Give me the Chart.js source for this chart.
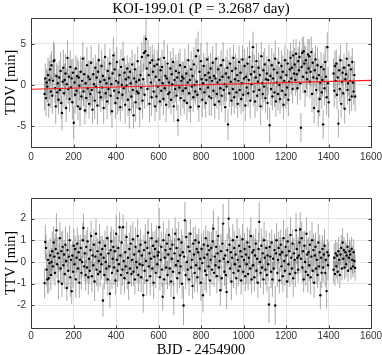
<!DOCTYPE html>
<html>
<head>
<meta charset="utf-8">
<script src="https://cdn.jsdelivr.net/npm/chart.js@4"></script>
<style>
  html, body { margin: 0; padding: 0; background: #fff; }
  #wrap { position: relative; width: 382px; height: 355px; }
  canvas { position: absolute; left: 0; }
  #cTop { top: 0; }
  #cBot { top: 180px; }
</style>
</head>
<body>
<div id="wrap">
  <canvas id="cTop" width="382" height="165"></canvas>
  <canvas id="cBot" width="382" height="175"></canvas>
</div>
<script>
// ---------- DATOS ----------
// tiempos de tránsito: primer tránsito + n * periodo (null = tránsito sin dato)
const PERIODO = 3.2687;
const T_PRIMERO = 64;

const X_TICKS   = [0, 200, 400, 600, 800, 1000, 1200, 1400, 1600];
const TDV_TICKS = [-5, 0, 5];
const TTV_TICKS = [-2, -1, 0, 1, 2];

// TDV [min]
const TDV = [
  -1.1,0.8,-1.6,0.3,-0.2,1.2,-2.4,0.6,1.9,-0.8,2.4,-1.3,0.5,2.9,3.0,-0.4,-2.6,1.1,-0.9,0.2,
  -1.8,0.9,-0.6,1.7,-2.2,-3.4,0.4,2.1,-1.0,0.6,1.4,-2.8,0.1,3.3,-0.5,1.0,-1.7,2.2,-0.3,0.8,
  -2.1,1.5,-4.6,0.3,-1.2,2.0,-0.7,1.1,-2.6,0.9,-0.1,-2.9,1.6,-1.4,0.5,3.2,-0.8,1.3,-3.1,0.2,
  -1.6,2.4,-0.4,1.0,-2.3,0.7,-1.1,2.7,-0.6,-3.0,1.3,0.1,-1.9,2.1,-0.2,0.9,-2.5,1.6,3.0,-0.9,
  0.4,-1.5,2.3,-0.3,1.1,-2.8,0.6,3.4,-1.0,0.2,-2.0,1.7,-0.5,0.8,2.6,-1.3,0.1,-3.2,1.4,3.6,
  -0.7,1.9,-2.2,0.5,2.8,-1.6,0.3,-0.9,1.2,-2.7,2.2,0.0,-1.2,3.1,-0.4,1.5,-2.4,0.7,-0.1,2.0,
  -1.8,0.9,-3.0,1.6,0.2,-1.4,2.5,-0.6,-3.7,0.8,1.9,-2.1,0.4,-0.8,2.9,-1.0,0.6,-2.9,1.2,-0.3,
  3.4,-1.9,0.7,3.9,-1.2,4.1,5.6,2.0,-0.5,3.6,1.2,-2.3,2.7,0.3,-1.5,3.0,1.6,-0.8,2.3,-2.6,
  1.0,-1.4,2.5,-0.2,3.1,0.6,-2.0,1.8,-0.7,2.2,0.2,-1.7,3.3,-0.4,1.1,-2.4,0.8,2.6,-1.1,0.3,
  -0.9,2.0,-1.8,1.3,0.1,2.8,-2.6,0.6,-0.5,1.7,-1.3,0.9,-4.3,1.5,-0.3,2.4,-1.6,0.5,1.0,-0.7,
  0.8,-1.9,2.2,-0.4,1.4,-2.2,0.3,3.0,-1.0,0.6,-2.7,1.9,-0.2,1.1,-1.5,2.5,0.0,-0.8,3.5,0.4,
  -1.2,4.2,-2.6,1.6,-0.5,2.9,0.7,-1.8,0.2,2.3,-0.9,1.2,-2.2,0.6,3.1,-0.3,1.5,-1.4,0.9,2.0,
  -1.6,0.5,2.7,-0.7,1.1,-2.4,0.8,3.2,-1.1,0.3,1.9,-2.0,0.6,-0.4,2.4,-1.3,1.0,3.0,-0.6,0.1,
  -2.7,1.4,-0.2,2.1,-4.8,0.9,-1.0,2.6,0.4,-1.9,1.7,-0.5,3.3,-1.5,0.7,2.0,-0.9,1.2,-2.3,0.5,
  2.8,-0.6,1.5,-1.7,0.2,3.1,-1.2,0.8,2.3,-2.5,1.0,-0.3,2.6,-1.0,0.6,3.4,-1.9,1.3,0.1,2.2,
  4.6,-0.8,1.6,-2.0,0.9,2.9,-1.3,0.4,2.1,-0.6,1.2,-2.6,3.5,0.2,-1.1,1.8,-0.2,2.5,-1.6,0.7,
  1.4,-2.2,0.6,3.0,-4.9,1.1,-0.5,2.4,-1.4,0.8,1.9,-0.9,3.2,-2.0,0.3,1.5,-1.1,2.7,0.0,-1.7,
  0.9,2.3,-0.7,1.6,-2.4,0.5,3.0,-1.2,1.2,-0.3,2.6,-1.8,0.4,1.9,3.3,0.8,2.1,-0.5,3.6,1.4,
  2.5,0.6,3.8,1.3,-0.4,2.9,1.8,3.4,0.2,-5.2,2.2,3.9,1.0,4.1,2.6,-0.8,3.0,1.5,0.7,3.7,
  2.0,3.5,0.4,1.6,4.0,-1.1,2.7,0.9,-2.8,1.8,3.1,-0.6,0.8,2.4,-3.2,1.2,-1.7,0.3,2.2,-0.9,
  0.6,-4.8,1.9,-0.4,2.8,1.0,-1.5,4.6,0.2,-2.1,null,null,null,null,null,null,1.4,-0.7,2.3,0.5,
  2.6,-1.2,0.9,-4.7,1.8,-0.5,3.0,-2.3,0.4,1.5,-1.0,2.1,-2.9,0.7,1.3,3.2,-0.6,0.2,2.4,-1.8,
  0.5,1.9,-1.4,2.8,0.3,-0.8,1.2,-1.4
];
const TDV_ERR = [
  2.0,1.8,2.2,1.7,1.9,2.1,1.6,2.3,1.8,2.0,1.7,2.2,1.9,2.4,2.0,1.8,2.1,1.6,1.9,2.2,
  1.8,2.0,1.7,2.3,1.9,2.1,1.6,2.2,1.8,2.0,2.4,1.7,1.9,2.1,1.8,2.2,1.6,2.0,1.9,2.3,
  2.1,1.7,2.0,1.8,2.3,1.6,1.9,2.2,1.7,2.0,1.8,2.1,1.9,1.6,2.4,2.0,1.8,2.2,1.7,1.9,
  1.9,2.2,1.7,2.0,1.8,2.3,1.6,2.1,1.9,1.7,2.0,1.8,2.2,1.6,2.1,1.9,2.3,1.7,2.0,1.8,
  2.2,1.8,2.0,1.7,2.1,1.9,2.3,1.6,2.0,1.8,2.2,1.7,1.9,2.1,1.8,2.4,1.6,2.0,1.9,2.2,
  1.7,2.1,1.9,2.2,1.8,2.0,1.6,2.3,1.9,1.7,2.1,1.8,2.0,2.2,1.7,1.9,2.3,1.8,2.0,1.6,
  2.0,1.8,2.3,1.7,1.9,2.1,1.8,2.2,1.6,2.0,1.9,2.4,1.7,2.1,1.8,2.0,1.7,2.2,1.9,2.1,
  1.8,2.2,1.9,2.1,1.7,2.0,2.4,1.8,2.1,1.9,1.7,2.2,2.0,1.8,2.3,1.9,2.1,1.7,2.0,1.8,
  2.1,1.9,1.7,2.2,2.0,1.8,2.3,1.6,1.9,2.1,1.8,2.0,2.2,1.7,1.9,2.1,1.6,2.3,1.8,2.0,
  1.9,2.1,1.8,2.0,2.3,1.7,1.9,2.2,1.6,2.0,1.8,2.1,1.9,2.4,1.7,2.0,2.2,1.8,1.9,2.1,
  2.0,1.7,2.2,1.9,1.8,2.1,1.6,2.0,2.3,1.8,1.9,2.2,1.7,2.0,1.8,2.1,1.9,1.6,2.2,2.0,
  1.8,2.3,1.9,2.0,1.7,2.2,1.8,2.1,1.9,1.6,2.0,2.2,1.8,1.9,2.1,1.7,2.0,2.3,1.8,1.9,
  2.2,1.9,2.0,1.8,2.1,1.7,2.3,1.9,1.8,2.0,1.6,2.2,1.9,2.1,1.8,2.0,1.7,2.2,1.9,2.0,
  1.9,2.0,1.8,2.2,1.9,2.1,1.7,2.0,2.3,1.8,1.9,2.1,1.6,2.0,2.2,1.8,1.9,2.1,1.7,2.0,
  2.0,2.1,1.8,1.9,2.2,1.7,2.0,1.8,2.1,1.9,2.3,1.8,2.0,1.7,2.1,1.9,2.2,1.8,2.0,1.9,
  1.9,1.8,2.1,2.0,1.7,2.2,1.9,2.0,1.8,2.1,1.9,2.3,1.7,2.0,1.8,2.2,1.9,2.0,1.8,2.1,
  2.1,2.0,1.8,1.9,2.2,1.8,2.0,2.1,1.7,1.9,2.0,1.8,2.2,1.9,2.1,1.7,2.0,1.9,2.2,1.8,
  1.8,1.9,2.1,2.0,1.8,2.2,1.9,1.7,2.0,2.1,1.8,2.0,1.9,2.2,1.8,2.0,2.1,1.7,1.9,2.0,
  2.0,1.9,1.8,2.1,2.0,1.7,2.2,1.9,2.0,1.8,2.1,1.9,2.0,1.8,2.2,1.9,1.7,2.0,2.1,1.9,
  1.9,2.1,2.0,1.8,1.9,2.2,1.8,2.0,1.9,2.1,1.7,2.0,1.9,2.2,1.8,2.0,2.1,1.9,1.8,2.0,
  2.0,1.8,1.9,2.1,2.0,1.9,2.2,1.8,2.0,1.9,null,null,null,null,null,null,1.8,2.0,1.9,2.1,
  1.7,1.8,1.9,1.7,1.8,1.6,1.9,1.7,1.8,1.6,1.9,1.7,1.8,1.6,1.7,1.9,1.8,1.6,1.7,1.8,
  1.7,1.6,1.8,1.7,1.9,1.6,1.7,1.8
];

// TTV [min]
const TTV = [
  -0.97,0.92,0.65,-0.35,-0.8,0.1,-0.75,-0.05,0.3,-0.6,0.0,0.5,-0.2,0.9,0.25,-0.5,0.6,1.46,-0.1,0.4,
  -0.9,0.2,1.1,-0.3,0.5,-1.0,0.7,-0.15,0.35,-0.55,0.8,0.05,-1.2,0.55,-0.4,0.25,1.0,-0.7,0.1,-1.35,
  0.3,-0.45,0.75,-0.1,0.6,-0.8,0.2,0.85,-0.3,0.45,-0.95,0.1,0.65,-0.5,0.0,1.0,1.57,-0.2,0.4,-0.6,
  0.7,-0.25,0.95,-0.7,0.15,-0.4,0.55,1.2,-0.65,0.3,-0.15,0.8,-0.9,0.25,1.3,-0.35,0.5,-0.55,0.05,0.9,
  -0.45,0.35,-0.1,0.6,-1.77,0.2,-0.6,0.75,0.0,-0.3,1.1,-0.8,0.4,-0.2,-1.46,0.55,0.95,-0.5,0.15,0.7,
  -0.25,0.5,-0.85,1.3,0.1,-0.4,0.65,-0.1,1.6,0.3,-0.6,0.9,-0.35,1.6,0.05,-0.75,0.45,-0.2,1.15,-0.5,
  0.2,-0.95,0.6,-0.3,0.85,-0.55,0.1,1.05,-0.45,0.35,-0.8,0.7,0.0,-0.25,1.2,-0.6,0.5,-0.1,0.8,-0.7,
  0.3,-0.15,-1.53,0.55,-0.4,0.9,0.05,-0.85,0.65,1.35,-0.2,0.4,-0.65,0.15,1.1,-0.3,0.75,-0.95,0.25,0.6,
  -0.5,0.95,-0.1,0.3,0.45,1.6,-0.7,0.1,0.7,-0.35,-1.6,1.0,-0.8,0.2,0.55,-0.25,0.85,-0.6,0.35,1.25,
  -0.3,0.6,-0.9,0.15,0.8,-0.45,-1.65,0.4,1.3,-0.15,0.65,-0.75,0.05,1.05,-0.5,0.3,-0.2,0.9,-1.0,0.45,
  -2.0,0.25,1.92,-0.6,1.15,0.0,-0.35,0.7,-0.8,0.5,1.3,-0.25,0.1,-1.1,0.85,0.35,-0.5,1.0,-0.15,0.6,
  -0.7,0.45,0.9,-0.3,0.15,-0.95,0.6,-0.05,-1.53,0.8,0.2,-0.4,1.1,-0.6,0.35,0.75,-0.2,0.55,-0.85,0.1,
  0.65,-0.35,0.95,1.54,-0.5,0.25,-0.15,0.7,-0.65,0.4,1.2,-0.25,0.05,-1.3,0.5,-0.75,0.85,1.77,0.15,-0.45,
  0.3,-0.6,-1.38,0.55,0.0,2.0,0.8,-0.3,0.45,-0.9,0.2,1.0,-0.5,0.65,-0.1,0.35,-0.75,1.15,0.1,-0.4,
  0.75,-0.2,0.5,-0.85,0.25,1.05,-0.45,0.1,0.6,-0.65,0.35,-0.1,0.9,-0.55,0.2,0.7,-0.3,1.2,-0.8,0.45,
  -0.15,0.55,-0.7,0.3,0.85,-0.4,0.15,-0.95,0.6,1.85,0.0,-0.5,0.75,-0.25,0.4,-0.8,1.0,0.2,-0.35,0.65,
  -0.6,0.3,-0.1,-1.96,0.7,0.25,-0.45,0.9,-0.8,0.15,-0.3,0.55,-2.0,0.4,1.0,-0.5,0.1,0.65,-0.85,0.35,
  0.8,-0.2,0.45,-0.65,1.1,0.05,-0.4,0.7,0.3,-0.9,0.95,-0.1,0.5,-0.55,1.25,0.2,-0.3,0.85,-0.75,0.4,
  0.1,-0.5,1.46,0.6,0.2,-0.35,0.3,0.9,1.5,0.15,1.1,-0.25,0.5,-0.8,0.75,0.0,-0.45,1.3,0.35,-0.6,
  0.45,-0.15,0.8,-0.7,0.25,1.0,-0.4,0.55,-0.95,0.3,0.7,-0.3,0.1,-0.6,0.9,-0.2,0.45,-1.53,0.2,-0.5,
  0.6,-0.25,0.35,0.75,-0.5,0.1,-1.34,0.45,-0.15,0.3,null,null,null,null,null,null,-0.35,0.2,-0.55,0.4,
  -0.2,0.3,-0.45,0.5,0.1,-0.6,0.35,0.65,-0.3,0.9,0.15,0.55,-0.25,0.45,-0.1,0.3,0.7,-0.4,0.2,0.5,
  0.35,-0.3,0.6,0.1,-0.2,0.45,0.05,-0.27
];
const TTV_ERR = [
  0.7,0.8,0.6,0.75,0.65,0.85,0.7,0.6,0.8,0.7,0.65,0.9,0.7,0.75,0.85,0.6,0.7,0.8,0.65,0.75,
  0.8,0.65,0.75,0.7,0.9,0.6,0.75,0.8,0.65,0.7,0.85,0.7,0.6,0.8,0.75,0.65,0.7,0.9,0.7,0.6,
  0.65,0.75,0.8,0.7,0.6,0.85,0.7,0.75,0.65,0.8,0.7,0.9,0.6,0.75,0.7,0.8,0.65,0.7,0.85,0.7,
  0.75,0.7,0.65,0.8,0.7,0.6,0.85,0.7,0.75,0.65,0.8,0.7,0.9,0.65,0.7,0.75,0.6,0.8,0.7,0.85,
  0.7,0.85,0.7,0.6,0.75,0.8,0.65,0.7,0.9,0.7,0.6,0.75,0.8,0.7,0.65,0.85,0.7,0.75,0.6,0.8,
  0.8,0.7,0.65,0.85,0.7,0.75,0.6,0.8,0.7,0.65,0.9,0.7,0.75,0.6,0.8,0.7,0.85,0.65,0.7,0.75,
  0.65,0.8,0.75,0.7,0.85,0.6,0.7,0.8,0.65,0.75,0.7,0.9,0.65,0.7,0.8,0.75,0.6,0.85,0.7,0.7,
  0.75,0.65,0.8,0.7,0.6,0.85,0.75,0.7,0.8,0.65,0.7,0.75,0.9,0.6,0.7,0.8,0.65,0.75,0.7,0.85,
  0.7,0.75,0.65,0.8,0.7,0.9,0.6,0.75,0.7,0.8,0.65,0.85,0.7,0.6,0.75,0.8,0.7,0.65,0.9,0.7,
  0.8,0.6,0.7,0.85,0.75,0.65,0.8,0.7,0.75,0.6,0.9,0.7,0.65,0.8,0.7,0.75,0.85,0.6,0.7,0.8,
  0.9,0.7,0.85,0.65,0.75,0.8,0.6,0.7,0.75,0.85,0.65,0.7,0.8,0.6,0.75,0.7,0.9,0.65,0.8,0.7,
  0.7,0.8,0.65,0.75,0.6,0.85,0.7,0.75,0.8,0.65,0.7,0.9,0.6,0.8,0.75,0.7,0.65,0.85,0.7,0.75,
  0.75,0.7,0.8,0.85,0.65,0.7,0.6,0.75,0.8,0.7,0.9,0.65,0.75,0.7,0.8,0.6,0.85,0.9,0.7,0.65,
  0.7,0.65,0.8,0.75,0.7,0.95,0.8,0.65,0.7,0.85,0.6,0.75,0.7,0.8,0.65,0.7,0.75,0.85,0.6,0.7,
  0.8,0.7,0.75,0.65,0.85,0.7,0.6,0.8,0.75,0.7,0.65,0.9,0.7,0.75,0.6,0.8,0.7,0.85,0.65,0.75,
  0.7,0.75,0.65,0.8,0.7,0.6,0.85,0.7,0.75,0.9,0.65,0.7,0.8,0.6,0.75,0.7,0.85,0.65,0.7,0.8,
  0.75,0.7,0.8,0.85,0.65,0.7,0.75,0.6,0.8,0.7,0.65,0.75,0.9,0.7,0.8,0.65,0.7,0.75,0.6,0.8,
  0.7,0.8,0.65,0.75,0.85,0.6,0.7,0.8,0.7,0.75,0.65,0.85,0.7,0.6,0.8,0.75,0.7,0.65,0.85,0.7,
  0.75,0.65,0.8,0.7,0.75,0.6,0.85,0.7,0.8,0.65,0.75,0.7,0.9,0.6,0.7,0.8,0.65,0.75,0.7,0.8,
  0.7,0.75,0.65,0.8,0.7,0.85,0.6,0.75,0.7,0.8,0.65,0.7,0.75,0.6,0.85,0.7,0.8,0.65,0.75,0.7,
  0.65,0.7,0.6,0.75,0.65,0.7,0.8,0.6,0.7,0.65,null,null,null,null,null,null,0.6,0.65,0.55,0.6,
  0.55,0.6,0.5,0.65,0.55,0.6,0.5,0.6,0.55,0.65,0.5,0.6,0.55,0.5,0.6,0.55,0.65,0.5,0.6,0.55,
  0.6,0.5,0.55,0.65,0.5,0.6,0.55,0.6
];

// recta ajustada (TDV)
const AJUSTE_X = [0, 1600];
const AJUSTE_Y = [-0.52, 0.55];

// ---------- UTILIDADES ----------
function puntos(vals, errs) {
  const out = [];
  vals.forEach((v, i) => {
    if (v !== null) out.push({ x: T_PRIMERO + i * PERIODO, y: v, e: errs[i] || 0 });
  });
  return out;
}

const barrasError = {
  id: "barrasError",
  beforeDatasetsDraw(chart) {
    const { ctx, chartArea: a, scales: { x, y } } = chart;
    const ds = chart.data.datasets.find(d => d.conError);
    if (!ds) return;
    ctx.save();
    ctx.beginPath();
    ctx.rect(a.left, a.top, a.width, a.height);
    ctx.clip();
    ctx.strokeStyle = "rgba(85,85,85,0.5)";
    ctx.lineWidth = 1;
    ds.data.forEach(p => {
      const px = x.getPixelForValue(p.x);
      ctx.beginPath();
      ctx.moveTo(px, y.getPixelForValue(p.y - p.e));
      ctx.lineTo(px, y.getPixelForValue(p.y + p.e));
      ctx.stroke();
    });
    ctx.restore();
  }
};

const marco = {
  id: "marco",
  afterDraw(chart) {
    const { ctx, chartArea: a, scales: { x, y } } = chart;
    const L = Math.round(a.left) + 0.5, R = Math.round(a.right) + 0.5;
    const T = Math.round(a.top) + 0.5, B = Math.round(a.bottom) + 0.5;
    ctx.save();
    ctx.strokeStyle = "#3a3a3a";
    ctx.lineWidth = 1;
    ctx.beginPath();
    ctx.moveTo(L, T); ctx.lineTo(R, T); ctx.lineTo(R, B); ctx.lineTo(L, B); ctx.closePath();
    x.ticks.forEach(t => {
      const px = Math.round(x.getPixelForValue(t.value)) + 0.5;
      ctx.moveTo(px, B); ctx.lineTo(px, B - 3);
      ctx.moveTo(px, T); ctx.lineTo(px, T + 3);
    });
    y.ticks.forEach(t => {
      const py = Math.round(y.getPixelForValue(t.value)) + 0.5;
      ctx.moveTo(L, py); ctx.lineTo(L + 3, py);
      ctx.moveTo(R, py); ctx.lineTo(R - 3, py);
    });
    ctx.stroke();
    ctx.restore();
  }
};

Chart.defaults.font.family = "'Liberation Sans', Arial, sans-serif";
Chart.defaults.font.size = 10;
Chart.defaults.color = "#333";

function crearPanel(id, o) {
  const datasets = [{
    type: "scatter",
    data: puntos(o.valores, o.errores),
    conError: true,
    backgroundColor: "#000",
    borderColor: "#000",
    pointRadius: 1.2,
    pointBorderWidth: 0,
    order: 2
  }];
  if (o.ajuste) {
    datasets.push({
      type: "line",
      data: AJUSTE_X.map((xv, i) => ({ x: xv, y: AJUSTE_Y[i] })),
      borderColor: "#ff1a1a",
      borderWidth: 1.2,
      pointRadius: 0,
      order: 1
    });
  }
  return new Chart(document.getElementById(id), {
    type: "scatter",
    data: { datasets },
    options: {
      responsive: false,
      animation: false,
      layout: { padding: { left: 0, right: 11, top: o.padTop, bottom: 0 } },
      plugins: {
        legend: { display: false },
        tooltip: { enabled: false },
        title: {
          display: !!o.titulo,
          text: o.titulo || "",
          fullSize: false,
          color: "#000",
          font: { family: "'Liberation Serif', serif", size: 15, weight: "normal" },
          padding: { top: 0, bottom: 0 }
        }
      },
      scales: {
        x: {
          type: "linear", min: 0, max: 1600,
          afterBuildTicks: s => { s.ticks = X_TICKS.map(v => ({ value: v })); },
          afterFit: s => { s.height = o.altoX; s.paddingLeft = 0; s.paddingRight = 0; },
          ticks: { padding: o.padTicks, maxRotation: 0, autoSkip: false, callback: v => String(v) },
          grid: { color: "#e4e4e4", drawTicks: false },
          border: { display: false },
          title: {
            display: !!o.tituloX,
            text: o.tituloX || "",
            color: "#000",
            font: { family: "'Liberation Serif', serif", size: 14.5, lineHeight: 1 },
            padding: { top: 0, bottom: -2 }
          }
        },
        y: {
          type: "linear", min: o.yMin, max: o.yMax,
          afterBuildTicks: s => { s.ticks = o.yTicks.map(v => ({ value: v })); },
          afterFit: s => { s.width = 31; s.paddingTop = 0; s.paddingBottom = 0; },
          ticks: { padding: 5, callback: v => String(v) },
          grid: { color: "#e4e4e4", drawTicks: false },
          border: { display: false },
          title: {
            display: true,
            text: o.tituloY,
            color: "#000",
            font: { family: "'Liberation Serif', serif", size: 14.5 },
            padding: { top: 2, bottom: 0 }
          }
        }
      }
    },
    plugins: [barrasError, marco]
  });
}

crearPanel("cTop", {
  valores: TDV, errores: TDV_ERR, ajuste: true,
  titulo: "KOI-199.01 (P = 3.2687 day)",
  tituloY: "TDV [min]",
  yMin: -7.55, yMax: 8.15, yTicks: TDV_TICKS,
  padTop: 0, altoX: 18, padTicks: 4
});

crearPanel("cBot", {
  valores: TTV, errores: TTV_ERR, ajuste: false,
  tituloY: "TTV [min]",
  tituloX: "BJD - 2454900",
  yMin: -3.04, yMax: 2.95, yTicks: TTV_TICKS,
  padTop: 18, altoX: 27, padTicks: 2
});
</script>
</body>
</html>
